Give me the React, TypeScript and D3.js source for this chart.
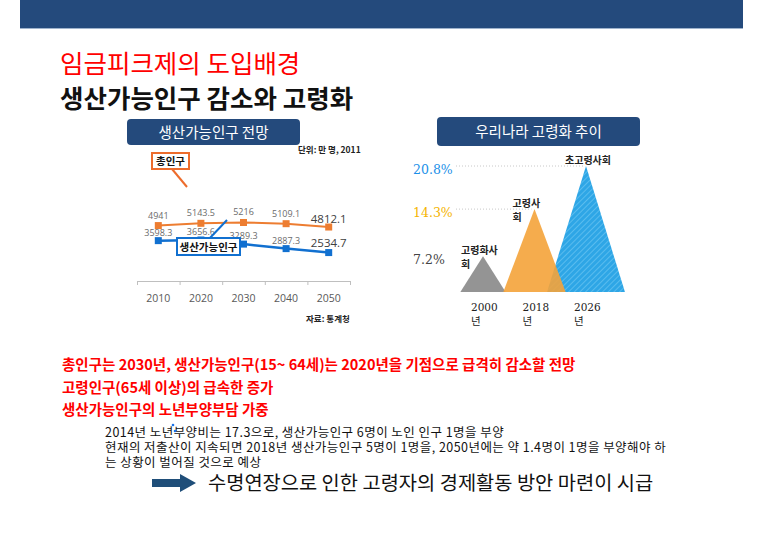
import React from "react";
import * as d3 from "d3";

// ---- Left chart data ----
const years = ["2010", "2020", "2030", "2040", "2050"];
const totalPop = [4941, 5143.5, 5216, 5109.1, 4812.1];
const workingPop = [3598.3, 3656.6, 3289.3, 2887.3, 2534.7];
const totalLabels = ["4941", "5143.5", "5216", "5109.1", "4812.1"];
const workingLabels = ["3598.3", "3656.6", "3289.3", "2887.3", "2534.7"];

// ---- Right chart data ----
const agingYears = ["2000", "2018", "2026"];
const agingRates = [7.2, 14.3, 20.8];
const agingRateLabels = ["7.2%", "14.3%", "20.8%"];
const agingStageLines = [["고령화사", "회"], ["고령사", "회"], ["초고령사회"]];

// ---- Texts ----
const redLines = [
  "총인구는 2030년, 생산가능인구(15~ 64세)는 2020년을 기점으로 급격히 감소할 전망",
  "고령인구(65세 이상)의 급속한 증가",
  "생산가능인구의 노년부양부담 가중",
];
const bodyLines = [
  "2014년 노년부양비는 17.3으로, 생산가능인구 6명이 노인 인구 1명을 부양",
  "현재의 저출산이 지속되면 2018년 생산가능인구 5명이 1명을, 2050년에는 약 1.4명이 1명을 부양해야 하",
  "는 상황이 벌어질 것으로 예상",
];
const conclusion = "수명연장으로 인한 고령자의 경제활동 방안 마련이 시급";

const KR = "'Noto Sans CJK KR', 'Noto Sans', sans-serif";
const NAVY = "#244a7c";

export default function App() {
  // left chart scales
  const x = d3.scaleBand<string>().domain(years).range([137, 350]);
  const y = d3.scaleLinear().domain([0, 6000]).range([281, 213.7]);
  const cx = (d: string) => (x(d) as number) + x.bandwidth() / 2;
  const lineGen = d3
    .line<number>()
    .x((_, i) => cx(years[i]))
    .y((v) => y(v));

  // right chart scales
  const ax = d3.scalePoint<string>().domain(agingYears).range([483, 586]);
  const ay = d3.scaleLinear().domain([1.8, 20.8]).range([292, 166]);
  const halfW = (v: number) => 14 + 1.2 * v;
  const triColors = ["#8e8e8e", "#f4a33a", "url(#hatch)"];
  const pctColors = ["#444444", "#f5b400", "#1a8fe8"];
  const triOrder = [2, 0, 1];

  return (
    <svg
      width={760}
      height={538}
      style={{ position: "absolute", left: 0, top: 0, background: "#fff" }}
      fontFamily={KR}
    >
      <defs>
        <pattern id="hatch" width="4" height="4" patternUnits="userSpaceOnUse" patternTransform="rotate(45)">
          <rect width="4" height="4" fill="#2ea6e6" />
          <line x1="0" y1="0" x2="0" y2="4" stroke="#6cc6f2" strokeWidth="1.4" />
        </pattern>
      </defs>
      <rect width={760} height={538} fill="#fff" />
      {/* top banner */}
      <rect x={20} y={0} width={723} height={28} fill={NAVY} />
      <line x1={20} x2={743} y1={28.5} y2={28.5} stroke="#9fb3cc" strokeWidth={1} />

      {/* titles */}
      <text x={60} y={73} fontSize={25.5} fill="#ff0000">임금피크제의 도입배경</text>
      <text x={60} y={108} fontSize={25.5} fontWeight={700} fill="#111">생산가능인구 감소와 고령화</text>

      {/* ---------- Left chart ---------- */}
      <rect x={127} y={119} width={173} height={26} rx={4} fill={NAVY} />
      <text x={213.5} y={137.5} fontSize={14.5} fill="#fff" textAnchor="middle">생산가능인구 전망</text>
      <text x={298} y={153} fontSize={8.5} fontWeight={700} fill="#222">단위: 만 명, 2011</text>

      {/* axis */}
      <line x1={137} x2={350} y1={281.5} y2={281.5} stroke="#bfbfbf" />
      {years.map((d) => (
        <line key={"t" + d} x1={(x(d) as number) + 0.5} x2={(x(d) as number) + 0.5} y1={281} y2={285} stroke="#bfbfbf" />
      ))}
      <line x1={350.5} x2={350.5} y1={281} y2={285} stroke="#bfbfbf" />
      {years.map((d) => (
        <text key={"l" + d} x={cx(d)} y={302} fontSize={10.5} fill="#595959" textAnchor="middle" fontFamily="'Open Sans', sans-serif">
          {d}
        </text>
      ))}

      {/* lines */}
      <path d={lineGen(totalPop) || ""} fill="none" stroke="#ed7d31" strokeWidth={2} />
      <path d={lineGen(workingPop) || ""} fill="none" stroke="#1170d0" strokeWidth={2.5} />
      {totalPop.map((v, i) => (
        <rect key={"o" + i} x={cx(years[i]) - 3.5} y={y(v) - 3.5} width={7} height={7} fill="#ed7d31" />
      ))}
      {workingPop.map((v, i) => (
        <rect key={"b" + i} x={cx(years[i]) - 3.5} y={y(v) - 3.5} width={7} height={7} fill="#1170d0" />
      ))}
      {totalPop.map((v, i) => {
        const last = i === totalPop.length - 1;
        return (
          <text key={"ol" + i} x={cx(years[i])} y={y(v) - (last ? 4 : 7)} fontSize={last ? 11.5 : 9} fill={last ? "#404040" : "#6b6b6b"} textAnchor="middle" fontFamily="'Open Sans', sans-serif">
            {totalLabels[i]}
          </text>
        );
      })}
      {workingPop.map((v, i) => {
        const last = i === workingPop.length - 1;
        return (
          <text key={"bl" + i} x={cx(years[i])} y={y(v) - (last ? 6 : 5)} fontSize={last ? 11.5 : 9} fill={last ? "#404040" : "#6b6b6b"} textAnchor="middle" fontFamily="'Open Sans', sans-serif">
            {workingLabels[i]}
          </text>
        );
      })}

      {/* callouts */}
      <line x1={227} y1={220} x2={209} y2={239} stroke="#1170d0" strokeWidth={2} />
      <rect x={177} y={238} width={63} height={17} fill="#fff" stroke="#1170d0" strokeWidth={2} />
      <text x={208.5} y={250.5} fontSize={10.5} fontWeight={700} fill="#111" textAnchor="middle">생산가능인구</text>
      <line x1={172} y1={169} x2={187} y2={187} stroke="#ed6c2c" strokeWidth={2} />
      <rect x={152} y={153} width={37} height={16} fill="#fff" stroke="#ed6c2c" strokeWidth={2} />
      <text x={170.5} y={165} fontSize={10.5} fontWeight={700} fill="#111" textAnchor="middle">총인구</text>
      <text x={306} y={322} fontSize={8.5} fontWeight={700} fill="#222">자료: 통계청</text>

      {/* ---------- Right chart ---------- */}
      <rect x={437} y={117} width={203} height={29} rx={4} fill={NAVY} />
      <text x={538.5} y={136.5} fontSize={14.5} fill="#fff" textAnchor="middle">우리나라 고령화 추이</text>

      {agingRates.map((v, i) =>
        i > 0 ? (
          <line key={"dl" + i} x1={456} x2={(ax(agingYears[i]) as number) - 3} y1={ay(v)} y2={ay(v)} stroke="#c8c8c8" strokeWidth={1} strokeDasharray="1,2" />
        ) : null
      )}
      {triOrder.map((i) => {
        const v = agingRates[i];
        const c = ax(agingYears[i]) as number;
        const w = halfW(v);
        const pts = [[c - w, 292], [c, ay(v)], [c + w, 292]].map((p) => p.join(",")).join(" ");
        return <polygon key={"tri" + i} points={pts} fill={triColors[i]} fillOpacity={i === 1 ? 0.9 : i === 0 ? 0.95 : 1} />;
      })}
      {agingRates.map((v, i) => (
        <text key={"pct" + i} x={413} y={ay(v) + 8} fontSize={12.5} fill={pctColors[i]} fontFamily="'DejaVu Serif', serif">
          {agingRateLabels[i]}
        </text>
      ))}
      {agingStageLines.map((lines, i) => {
        const c = ax(agingYears[i]) as number;
        const top = ay(agingRates[i]);
        const single = lines.length === 1;
        return (
          <text key={"st" + i} fontSize={10} fontWeight={700} fill="#222" textAnchor={single ? "middle" : "start"}>
            {lines.map((ln, k) => (
              <tspan key={k} x={single ? c + 2 : c - 22} y={top - 2 + k * 14}>
                {ln}
              </tspan>
            ))}
          </text>
        );
      })}
      {agingYears.map((d) => {
        const c = ax(d) as number;
        return (
          <text key={"ay" + d} fontSize={10.5} fill="#222" fontFamily="'DejaVu Serif', serif">
            <tspan x={c - 12} y={311}>{d}</tspan>
            <tspan x={c - 12} y={325} fontFamily={KR}>년</tspan>
          </text>
        );
      })}

      {/* ---------- Text block ---------- */}
      {redLines.map((t, i) => (
        <text key={"r" + i} x={62} y={370 + i * 22.5} fontSize={14.5} fontWeight={700} fill="#ff0000">
          {t}
        </text>
      ))}
      {bodyLines.map((t, i) => (
        <text key={"bd" + i} x={105} y={437 + i * 15} fontSize={12.5} fill="#111" letterSpacing={0.45}>
          {t}
        </text>
      ))}
      <circle cx={173} cy={425} r={1.3} fill="#1a73e8" />
      <circle cx={175} cy={431} r={1.3} fill="#1a73e8" />

      <polygon points="152,479 180,479 180,474 196,483 180,492 180,487 152,487" fill="#1f4e79" />
      <text x={208} y={490} fontSize={19.8} fill="#111">{conclusion}</text>
    </svg>
  );
}
